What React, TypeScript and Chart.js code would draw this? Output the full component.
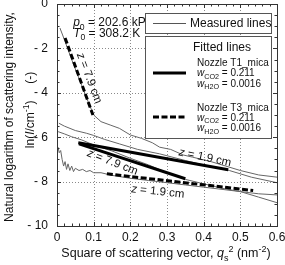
import React, { useEffect, useRef } from "react";
import { Chart, registerables } from "chart.js";
Chart.register(...registerables);

const FONT = '"Liberation Sans", Arial, Helvetica, sans-serif';

const xTickValues = [0, 0.1, 0.2, 0.3, 0.4, 0.5, 0.6];
const yTickValues = [0, -2, -4, -6, -8, -10];

// Measured lines (q_s^2, ln I)
const m1Q = [0.008, 0.02, 0.04, 0.06, 0.08, 0.1, 0.12, 0.145, 0.17, 0.2, 0.23, 0.26, 0.28, 0.31, 0.344, 0.37, 0.42, 0.46, 0.5, 0.55, 0.6];
const m1V = [-1.08, -1.6, -2.5, -3.35, -4.2, -5.0, -5.3, -5.45, -5.6, -5.9, -6.05, -6.25, -6.45, -6.55, -6.8, -6.9, -7.1, -7.3, -7.5, -7.7, -7.8];

const m2Q = [0.005, 0.02, 0.05, 0.08, 0.1, 0.13, 0.17, 0.22, 0.28, 0.35, 0.4, 0.47, 0.53, 0.6];
const m2V = [-5.37, -5.5, -5.7, -5.82, -5.92, -6.1, -6.3, -6.55, -6.75, -7.05, -7.25, -7.5, -7.8, -8.05];

const m3Q = [0.003, 0.02, 0.04, 0.067, 0.1, 0.15, 0.2, 0.25, 0.3, 0.35, 0.4, 0.45, 0.5, 0.55, 0.6];
const m3V = [-5.75, -5.85, -5.98, -6.12, -6.35, -6.62, -6.95, -7.25, -7.6, -7.9, -8.1, -8.3, -8.45, -8.7, -8.95];

const m4Q = [0.003, 0.006, 0.01, 0.014, 0.018, 0.022, 0.026, 0.03, 0.035, 0.04, 0.045, 0.05, 0.06, 0.07, 0.08, 0.09, 0.1, 0.12, 0.15, 0.2, 0.25, 0.3, 0.35, 0.4, 0.45, 0.5, 0.55, 0.6];
const m4V = [-6.45, -6.7, -6.6, -7.0, -7.3, -7.1, -7.45, -7.2, -7.5, -7.3, -7.55, -7.4, -7.5, -7.45, -7.55, -7.5, -7.6, -7.6, -7.72, -7.85, -7.95, -8.05, -8.15, -8.25, -8.35, -8.45, -8.55, -8.6];

// Fitted lines
const fitT3z79Q = [0.022, 0.098];
const fitT3z79V = [-1.53, -5.0];
const fitT1z79Q = [0.06, 0.35];
const fitT1z79V = [-6.3, -7.87];
const fitT1z19Q = [0.058, 0.467];
const fitT1z19V = [-6.25, -7.47];
const fitT3z19Q = [0.136, 0.535];
const fitT3z19V = [-7.65, -8.4];

const pts = (q: number[], v: number[]) => q.map((x, i) => ({ x, y: v[i] }));

type Part = { t: string; i?: boolean; sub?: boolean; sup?: boolean };

function partFont(p: Part, size: number) {
  const s = p.sub || p.sup ? size * 0.72 : size;
  return `${p.i ? "italic " : ""}${s}px ${FONT}`;
}
function richWidth(ctx: CanvasRenderingContext2D, parts: Part[], size: number) {
  let w = 0;
  for (const p of parts) {
    ctx.font = partFont(p, size);
    w += ctx.measureText(p.t).width;
  }
  return w;
}
function drawRich(ctx: CanvasRenderingContext2D, parts: Part[], x: number, yc: number, size: number, align: "left" | "center" = "left") {
  const w = richWidth(ctx, parts, size);
  let cx = align === "center" ? x - w / 2 : x;
  const base = yc + size * 0.35;
  ctx.textAlign = "left";
  ctx.textBaseline = "alphabetic";
  for (const p of parts) {
    ctx.font = partFont(p, size);
    const dy = p.sub ? size * 0.28 : p.sup ? -size * 0.4 : 0;
    ctx.fillText(p.t, cx, base + dy);
    cx += ctx.measureText(p.t).width;
  }
}
function drawRotated(ctx: CanvasRenderingContext2D, parts: Part[], x: number, y: number, size: number, angleDeg: number) {
  ctx.save();
  ctx.translate(x, y);
  ctx.rotate((angleDeg * Math.PI) / 180);
  drawRich(ctx, parts, 0, 0, size, "center");
  ctx.restore();
}

const decor = {
  id: "decor",
  beforeDatasetsDraw(chart: any) {
    const { ctx, chartArea: a, scales } = chart;
    const xs = scales.x, ys = scales.y;
    ctx.save();
    ctx.strokeStyle = "#8a8a8a";
    ctx.lineWidth = 1;
    ctx.setLineDash([1, 2]);
    for (const v of xTickValues.slice(1, -1)) {
      const px = Math.round(xs.getPixelForValue(v)) + 0.5;
      ctx.beginPath(); ctx.moveTo(px, a.top); ctx.lineTo(px, a.bottom); ctx.stroke();
    }
    for (const v of yTickValues.slice(1, -1)) {
      const py = Math.round(ys.getPixelForValue(v)) + 0.5;
      ctx.beginPath(); ctx.moveTo(a.left, py); ctx.lineTo(a.right, py); ctx.stroke();
    }
    ctx.restore();
  },
  afterDatasetsDraw(chart: any) {
    const { ctx, chartArea: a, scales } = chart;
    const xs = scales.x, ys = scales.y;
    ctx.save();
    // plot border
    ctx.strokeStyle = "#333";
    ctx.lineWidth = 1;
    ctx.setLineDash([]);
    ctx.strokeRect(Math.round(a.left) + 0.5, Math.round(a.top) + 0.5, Math.round(a.right - a.left), Math.round(a.bottom - a.top));
    // tick marks (inward, all four sides)
    ctx.beginPath();
    for (let k = 0; k <= 30; k++) {
      const v = k * 0.02;
      const px = Math.round(xs.getPixelForValue(v)) + 0.5;
      const len = k % 5 === 0 ? 4 : 2.5;
      ctx.moveTo(px, a.bottom); ctx.lineTo(px, a.bottom - len);
      ctx.moveTo(px, a.top); ctx.lineTo(px, a.top + len);
    }
    for (let k = 0; k <= 20; k++) {
      const v = -k * 0.5;
      const py = Math.round(ys.getPixelForValue(v)) + 0.5;
      const len = k % 4 === 0 ? 4 : 2.5;
      ctx.moveTo(a.left, py); ctx.lineTo(a.left + len, py);
      ctx.moveTo(a.right, py); ctx.lineTo(a.right - len, py);
    }
    ctx.stroke();

    ctx.fillStyle = "#111";
    // conditions
    drawRich(ctx, [{ t: "p", i: true }, { t: "0", sub: true }, { t: " = 202.6 kPa" }], xs.getPixelForValue(0.044), ys.getPixelForValue(-0.81), 12);
    drawRich(ctx, [{ t: "T", i: true }, { t: "0", sub: true }, { t: " = 308.2 K" }], xs.getPixelForValue(0.044), ys.getPixelForValue(-1.3), 12);

    // line labels
    const zl = (d: string): Part[] => [{ t: "z", i: true }, { t: " = " + d + " cm" }];
    drawRotated(ctx, zl("7.9"), xs.getPixelForValue(0.09), ys.getPixelForValue(-3.33), 11.5, 69);
    drawRotated(ctx, zl("7.9"), xs.getPixelForValue(0.152), ys.getPixelForValue(-7.1), 11.5, 21);
    drawRotated(ctx, zl("1.9"), xs.getPixelForValue(0.404), ys.getPixelForValue(-6.88), 11.5, 12);
    drawRotated(ctx, zl("1.9"), xs.getPixelForValue(0.275), ys.getPixelForValue(-8.42), 11.5, 6);

    // legend boxes
    ctx.fillStyle = "#fff";
    ctx.strokeStyle = "#555";
    ctx.lineWidth = 1;
    ctx.fillRect(145, 13, 126, 20);
    ctx.strokeRect(145.5, 13.5, 126, 20);
    ctx.fillRect(145, 36, 126, 102);
    ctx.strokeRect(145.5, 36.5, 126, 102);

    ctx.strokeStyle = "#555";
    ctx.lineWidth = 1;
    ctx.beginPath(); ctx.moveTo(153, 23.5); ctx.lineTo(186, 23.5); ctx.stroke();
    ctx.fillStyle = "#111";
    drawRich(ctx, [{ t: "Measured lines" }], 190, 23, 12);
    drawRich(ctx, [{ t: "Fitted lines" }], 193, 47, 12);

    ctx.strokeStyle = "#000";
    ctx.lineWidth = 3;
    ctx.beginPath(); ctx.moveTo(153, 73); ctx.lineTo(186, 73); ctx.stroke();
    ctx.setLineDash([6, 2.5]);
    ctx.beginPath(); ctx.moveTo(153, 117); ctx.lineTo(186, 117); ctx.stroke();
    ctx.setLineDash([]);

    drawRich(ctx, [{ t: "Nozzle T1_mica" }], 197, 62, 10);
    drawRich(ctx, [{ t: "w", i: true }, { t: "CO2", sub: true }, { t: " = 0.211" }], 197, 72.5, 10);
    drawRich(ctx, [{ t: "w", i: true }, { t: "H2O", sub: true }, { t: " = 0.0016" }], 197, 83, 10);
    drawRich(ctx, [{ t: "Nozzle T3_mica" }], 197, 107, 10);
    drawRich(ctx, [{ t: "w", i: true }, { t: "CO2", sub: true }, { t: " = 0.211" }], 197, 117, 10);
    drawRich(ctx, [{ t: "w", i: true }, { t: "H2O", sub: true }, { t: " = 0.0016" }], 197, 127.5, 10);

    // axis titles
    drawRotated(ctx, [{ t: "Natural logarithm of scattering intensity," }], 9, 117, 12, -90);
    drawRotated(ctx, [{ t: "ln(" }, { t: "I", i: true }, { t: "/cm" }, { t: "-1", sup: true }, { t: ")     (-)" }], 30, 110, 12, -90);
    drawRich(ctx, [{ t: "Square of scattering vector, " }, { t: "q", i: true }, { t: "s", sub: true }, { t: "2", sup: true }, { t: " (nm" }, { t: "-2", sup: true }, { t: ")" }], 166, 253, 12.5, "center");
    ctx.restore();
  },
};

export default function App() {
  const ref = useRef<HTMLCanvasElement>(null);
  useEffect(() => {
    if (!ref.current) return;
    const measured = (q: number[], v: number[]) => ({
      data: pts(q, v), borderColor: "#666", borderWidth: 1, pointRadius: 0, fill: false, tension: 0, order: 2,
    });
    const fitted = (q: number[], v: number[], dashed: boolean) => ({
      data: pts(q, v), borderColor: "#000", borderWidth: 3, pointRadius: 0, fill: false, tension: 0, order: 1,
      borderDash: dashed ? [6, 2.5] : [], borderCapStyle: "butt",
    });
    const noPad = (s: any) => { s.paddingTop = 0; s.paddingBottom = 0; s.paddingLeft = 0; s.paddingRight = 0; };
    const chart = new Chart(ref.current, {
      type: "line",
      data: {
        datasets: [
          fitted(fitT3z79Q, fitT3z79V, true),
          fitted(fitT1z79Q, fitT1z79V, false),
          fitted(fitT1z19Q, fitT1z19V, false),
          fitted(fitT3z19Q, fitT3z19V, true),
          measured(m1Q, m1V),
          measured(m2Q, m2V),
          measured(m3Q, m3V),
          measured(m4Q, m4V),
        ] as any,
      },
      options: {
        animation: false,
        responsive: false,
        devicePixelRatio: 1,
        layout: { padding: { top: 4, right: 8, left: 0, bottom: 0 } },
        plugins: { legend: { display: false }, tooltip: { enabled: false } },
        scales: {
          x: {
            type: "linear", min: 0, max: 0.6,
            afterFit: (s: any) => { s.height = 39; noPad(s); },
            afterBuildTicks: (s: any) => { s.ticks = xTickValues.map((value) => ({ value })); },
            ticks: {
              font: { family: FONT, size: 12 }, color: "#111", padding: 4, maxRotation: 0, autoSkip: false,
              callback: (v: any) => (Number(v) === 0 ? "0" : Number(v).toFixed(1)),
            },
            grid: { display: false, drawTicks: false },
            border: { display: false },
          },
          y: {
            type: "linear", min: -10, max: 0,
            afterFit: (s: any) => { s.width = 57; noPad(s); },
            afterBuildTicks: (s: any) => { s.ticks = yTickValues.map((value) => ({ value })); },
            ticks: {
              font: { family: FONT, size: 12 }, color: "#111", padding: 9, autoSkip: false,
              callback: (v: any) => (Number(v) === 0 ? "0" : "- " + Math.abs(Number(v))),
            },
            grid: { display: false, drawTicks: false },
            border: { display: false },
          },
        },
      } as any,
      plugins: [decor],
    });
    return () => chart.destroy();
  }, []);
  return (
    <div style={{ position: "absolute", left: 0, top: 0, width: 285, height: 265, background: "#fff" }}>
      <canvas ref={ref} width={285} height={265} />
    </div>
  );
}
